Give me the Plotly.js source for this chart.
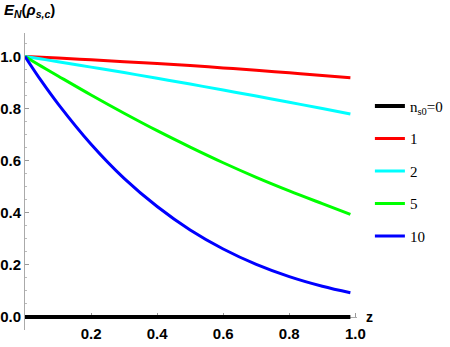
<!DOCTYPE html>
<html>
<head>
<meta charset="utf-8">
<script src="https://cdn.plot.ly/plotly-3.0.1.min.js"></script>
<style>
  body { margin: 0; background: #fff; }
  #chart { width: 450px; height: 347px; }
</style>
</head>
<body>
<div id="chart"></div>
<script>
const zVals = [0, 0.05, 0.1, 0.2, 0.3, 0.4, 0.5, 0.6, 0.7, 0.8, 0.9, 0.985];

// E_N for each n_s0
const ns0_0  = [0, 0, 0, 0, 0, 0, 0, 0, 0, 0, 0, 0];
const ns0_1  = [1, 0.997, 0.994, 0.987, 0.980, 0.973, 0.965, 0.956, 0.947, 0.937, 0.927, 0.918];
const ns0_2  = [1, 0.990, 0.980, 0.959, 0.938, 0.916, 0.894, 0.871, 0.848, 0.824, 0.800, 0.779];
const ns0_5  = [1, 0.962, 0.925, 0.852, 0.782, 0.715, 0.652, 0.592, 0.536, 0.484, 0.435, 0.394];
const ns0_10 = [1, 0.905, 0.818, 0.663, 0.532, 0.424, 0.334, 0.261, 0.202, 0.155, 0.118, 0.093];

const seriesNames = ["n<sub>s0</sub>=0", "1", "2", "5", "10"];
const seriesColors = ["#000000", "#ff0000", "#00ffff", "#00ff00", "#0000ff"];
const seriesData = [ns0_0, ns0_1, ns0_2, ns0_5, ns0_10];

const traces = seriesData.map((ys, i) => ({
  x: zVals,
  y: ys,
  type: "scatter",
  mode: "lines",
  name: seriesNames[i],
  legendgroup: "g" + i,
  line: { color: seriesColors[i], width: i === 0 ? 4 : 3, shape: "spline" }
}));

const tickFont = { family: "Liberation Sans, Arial", size: 15, color: "#000", weight: "bold" };

const layout = {
  width: 450,
  height: 347,
  margin: { l: 25, r: 93, t: 33, b: 17 },
  paper_bgcolor: "#fff",
  plot_bgcolor: "#fff",
  showlegend: true,
  legend: {
    xref: "container", yref: "container",
    x: 0.822, y: 0.741, xanchor: "left", yanchor: "top",
    font: { family: "Liberation Serif, Times New Roman, serif", size: 15, color: "#000" },
    traceorder: "grouped",
    tracegroupgap: 10,
    bgcolor: "rgba(0,0,0,0)"
  },
  xaxis: {
    range: [0, 1.005],
    anchor: "free",
    position: 0.05 / 1.14,
    layer: "below traces",
    showgrid: false,
    zeroline: false,
    showline: true,
    linecolor: "#aaa",
    linewidth: 1,
    ticks: "inside",
    ticklen: 4,
    tickcolor: "#999",
    tickvals: [0.2, 0.4, 0.6, 0.8, 1.0],
    tickformat: ".1f",
    tickfont: tickFont,
    ticklabelstandoff: 3,
    minor: { dtick: 0.05, tick0: 0, ticks: "inside", ticklen: 2, tickcolor: "#bbb", showgrid: false }
  },
  yaxis: {
    range: [-0.05, 1.09],
    layer: "below traces",
    showgrid: false,
    zeroline: false,
    showline: true,
    linecolor: "#aaa",
    linewidth: 1,
    ticks: "inside",
    ticklen: 4,
    tickcolor: "#999",
    tickvals: [0, 0.2, 0.4, 0.6, 0.8, 1.0],
    tickformat: ".1f",
    tickfont: tickFont,
    minor: { dtick: 0.05, tick0: 0, ticks: "inside", ticklen: 2, tickcolor: "#bbb", showgrid: false }
  },
  annotations: [
    {
      text: "<b><i>E</i><sub><i>N</i></sub>(<i>ρ</i><sub><i>s,c</i></sub>)</b>",
      xref: "paper", yref: "paper",
      x: -0.07, y: 1.115, xanchor: "left", yanchor: "top",
      showarrow: false,
      font: { family: "Liberation Sans, Arial", size: 15, color: "#000" }
    },
    {
      text: "<b>z</b>",
      xref: "paper", yref: "paper",
      x: 1.02, y: 0.045, xanchor: "left", yanchor: "middle",
      showarrow: false,
      font: { family: "Liberation Sans, Arial", size: 14, color: "#000" }
    }
  ]
};

Plotly.newPlot("chart", traces, layout, { displayModeBar: false, staticPlot: true });
</script>
</body>
</html>
